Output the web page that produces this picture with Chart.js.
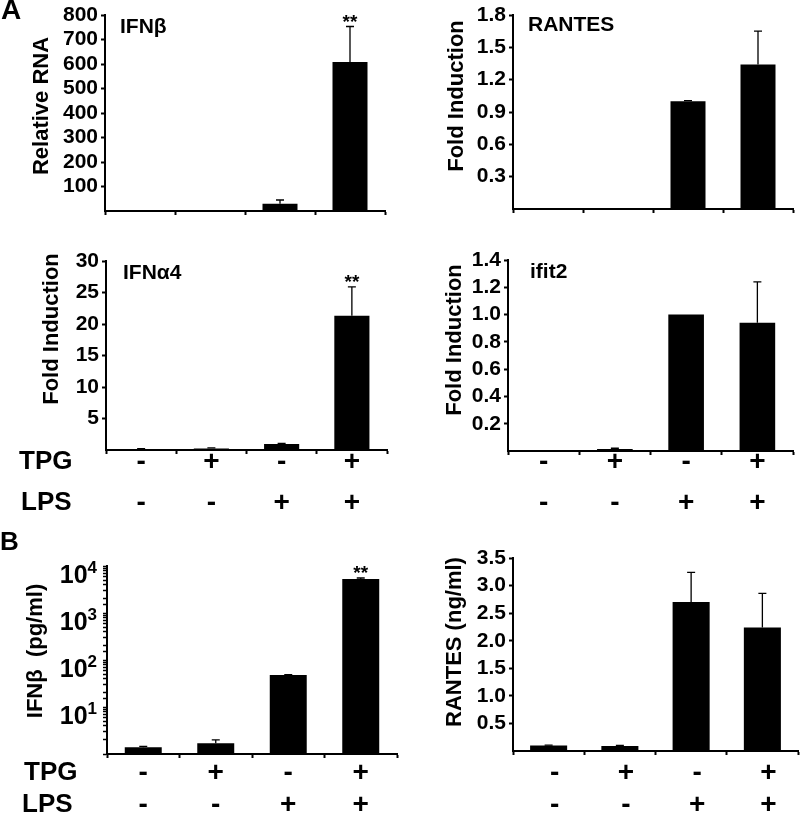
<!DOCTYPE html>
<html>
<head>
<meta charset="utf-8">
<script src="https://cdn.jsdelivr.net/npm/chart.js@4.4.0/dist/chart.umd.min.js"></script>
<style>
body { margin: 0; background: #fff; }
#fig { position: relative; width: 800px; height: 813px; }
#fig canvas { position: absolute; }
</style>
</head>
<body>
<div id="fig">
  <canvas id="ifnbRna"></canvas>
  <canvas id="rantesRna"></canvas>
  <canvas id="ifna4"></canvas>
  <canvas id="ifit2"></canvas>
  <canvas id="ifnbProt"></canvas>
  <canvas id="rantesProt"></canvas>
</div>
<script>
// conditions (4 groups) and the +/- rows under the axes
var groups = ['1', '2', '3', '4'];
var tpgSigns = ['-', '+', '-', '+'];
var lpsSigns = ['-', '-', '+', '+'];

// A - qPCR
var ifnbRnaMean = [0.5, 0.5, 30, 608];
var ifnbRnaErr = [0, 0, 15, 145];
var ifnbRnaTicks = [100, 200, 300, 400, 500, 600, 700, 800];

var rantesRnaMean = [0.005, 0.005, 1.0, 1.34];
var rantesRnaErr = [0, 0, 0.005, 0.31];
var rantesRnaTicks = [0.3, 0.6, 0.9, 1.2, 1.5, 1.8];

var ifna4Mean = [0.15, 0.25, 0.95, 21.3];
var ifna4Err = [0.05, 0.1, 0.1, 4.6];
var ifna4Ticks = [5, 10, 15, 20, 25, 30];

var ifit2Mean = [0.003, 0.015, 1.0, 0.94];
var ifit2Err = [0, 0.005, 0, 0.3];
var ifit2Ticks = [0.2, 0.4, 0.6, 0.8, 1.0, 1.2, 1.4];

// B - ELISA
var ifnbProtMean = [1.4, 1.7, 48, 5300];
var ifnbProtErr = [0.05, 0.3, 1, 250];
var ifnbProtTicks = [10, 100, 1000, 10000];

var rantesProtMean = [0.1, 0.09, 2.7, 2.24];
var rantesProtErr = [0.005, 0.01, 0.54, 0.62];
var rantesProtTicks = [0.5, 1.0, 1.5, 2.0, 2.5, 3.0, 3.5];

var FONT = "'Liberation Sans', Arial, Helvetica, sans-serif";
Chart.defaults.font.family = FONT;
Chart.defaults.font.weight = 'bold';
Chart.defaults.color = '#000';
Chart.defaults.animation = false;

function drawText(ctx, s, x, y, size, align, rot) {
    ctx.save();
    ctx.font = 'bold ' + size + 'px ' + FONT;
    ctx.fillStyle = '#000';
    ctx.textAlign = align || 'left';
    ctx.textBaseline = 'middle';
    ctx.translate(x, y);
    if (rot) ctx.rotate(rot);
    ctx.fillText(s, 0, 0);
    ctx.restore();
}

//-------------
//- error bars, stars, labels -
//-------------
var figurePlugin = {
    id: 'figure',
    afterDatasetsDraw: function (chart, args, o) {
        var ctx = chart.ctx;
        var ys = chart.scales.y;
        var bars = chart.getDatasetMeta(0).data;
        var means = chart.data.datasets[0].data;
        ctx.save();
        ctx.strokeStyle = '#000';
        ctx.lineWidth = 1.3;
        bars.forEach(function (bar, i) {
            var top = ys.getPixelForValue(means[i] + o.err[i]);
            if (o.err[i]) {
                ctx.beginPath();
                ctx.moveTo(bar.x, bar.y);
                ctx.lineTo(bar.x, top);
                ctx.moveTo(bar.x - 4, top);
                ctx.lineTo(bar.x + 4, top);
                ctx.stroke();
            }
            if (o.stars && o.stars[i]) {
                ctx.font = 'bold 19px ' + FONT;
                ctx.fillStyle = '#000';
                ctx.textAlign = 'center';
                ctx.textBaseline = 'alphabetic';
                ctx.fillText(o.stars[i], bar.x, top + 1);
            }
        });
        ctx.restore();
    },
    afterDraw: function (chart, args, o) {
        var ctx = chart.ctx;
        var xs = chart.scales.x, ys = chart.scales.y;
        var bx = o.box[0], by = o.box[1];

        // log axis labels 10^n
        if (o.logTicks) {
            o.logTicks.forEach(function (v) {
                var py = ys.getPixelForValue(v);
                var exp = String(Math.round(Math.log10(v)));
                ctx.save();
                ctx.font = 'bold 17px ' + FONT;
                var ew = ctx.measureText(exp).width;
                ctx.restore();
                drawText(ctx, exp, ys.right - 10, py + 2, 17, 'right');
                drawText(ctx, '10', ys.right - 10 - ew, py + 10, 25, 'right');
            });
        }

        (o.texts || []).forEach(function (t) {
            drawText(ctx, t.s, t.x - bx, t.y - by, t.size || 21, t.align, t.rot);
        });

        (o.rows || []).forEach(function (r) {
            if (r.label) drawText(ctx, r.label, r.labelX - bx, r.y - by, 26, 'left');
            r.signs.forEach(function (s, i) {
                drawText(ctx, s, xs.getPixelForValue(i) + (r.dx || 0), r.y - by, 28, 'center');
            });
        });
    }
};

function makePanel(id, box, p) {
    var canvas = document.getElementById(id);
    canvas.width = box[2];
    canvas.height = box[3];
    canvas.style.left = box[0] + 'px';
    canvas.style.top = box[1] + 'px';

    var yScale = {
        min: p.min,
        max: p.max,
        border: { display: true, color: '#000', width: 2 },
        grid: { display: true, drawOnChartArea: false, drawTicks: true, tickLength: 4, color: '#000', tickWidth: 2 },
        ticks: {
            font: { size: 21, weight: 'bold' },
            color: '#000',
            padding: 3,
            autoSkip: false,
            callback: function (v) { return p.log ? '' : v.toFixed(p.dec); }
        },
        afterFit: function (s) { s.width = p.yWidth; s.paddingTop = 0; s.paddingBottom = 0; }
    };
    if (p.log) {
        yScale.type = 'logarithmic';
        yScale.grid.tickWidth = 1.5;
    } else {
        yScale.afterBuildTicks = function (s) {
            s.ticks = p.ticks.map(function (v) { return { value: v }; });
        };
    }

    return new Chart(canvas, {
        type: 'bar',
        data: {
            labels: groups,
            datasets: [{
                data: p.mean,
                backgroundColor: '#000',
                borderWidth: 0,
                barPercentage: p.barPct || 0.5,
                categoryPercentage: 1.0
            }]
        },
        options: {
            responsive: false,
            maintainAspectRatio: false,
            layout: { padding: { top: p.padTop, right: p.padRight, bottom: 0, left: 0 } },
            scales: {
                x: {
                    border: { display: true, color: '#000', width: 2 },
                    grid: { display: true, offset: true, drawOnChartArea: false, drawTicks: true, tickLength: 4, color: '#000', tickWidth: 2 },
                    ticks: { display: false },
                    afterFit: function (s) { s.height = p.xHeight; s.paddingLeft = 0; s.paddingRight = 0; }
                },
                y: yScale
            },
            plugins: {
                legend: { display: false },
                tooltip: { enabled: false },
                figure: {
                    box: box,
                    err: p.err,
                    stars: p.stars,
                    logTicks: p.logTicks,
                    texts: p.texts,
                    rows: p.rows
                }
            }
        },
        plugins: [figurePlugin]
    });
}

var UP = -Math.PI / 2;

makePanel('ifnbRna', [0, 0, 400, 230], {
    mean: ifnbRnaMean, err: ifnbRnaErr, ticks: ifnbRnaTicks, min: 0, max: 800, dec: 0,
    yWidth: 105, xHeight: 19, padTop: 15, padRight: 15,
    stars: ['', '', '', '**'],
    texts: [
        { s: 'A', x: 1, y: 11, size: 28 },
        { s: 'IFNβ', x: 120, y: 27 },
        { s: 'Relative RNA', x: 42, y: 106, size: 22, align: 'center', rot: UP }
    ]
});

makePanel('rantesRna', [400, 0, 400, 230], {
    mean: rantesRnaMean, err: rantesRnaErr, ticks: rantesRnaTicks, min: 0, max: 1.8, dec: 1,
    yWidth: 113, xHeight: 21, padTop: 15, padRight: 7,
    texts: [
        { s: 'RANTES', x: 528, y: 25 },
        { s: 'Fold Induction', x: 457, y: 96, size: 22, align: 'center', rot: UP }
    ]
});

makePanel('ifna4', [0, 230, 400, 290], {
    mean: ifna4Mean, err: ifna4Err, ticks: ifna4Ticks, min: 0, max: 30, dec: 0,
    yWidth: 106, xHeight: 70, padTop: 31, padRight: 13,
    stars: ['', '', '', '**'],
    texts: [
        { s: 'IFNα4', x: 123, y: 273 },
        { s: 'Fold Induction', x: 52, y: 329, size: 22, align: 'center', rot: UP }
    ],
    rows: [
        { label: 'TPG', labelX: 19, y: 462, signs: tpgSigns },
        { label: 'LPS', labelX: 21, y: 503, signs: lpsSigns }
    ]
});

makePanel('ifit2', [400, 230, 400, 290], {
    mean: ifit2Mean, err: ifit2Err, ticks: ifit2Ticks, min: 0, max: 1.4, dec: 1,
    yWidth: 108, xHeight: 69, padTop: 30, padRight: 7,
    texts: [
        { s: 'ifit2', x: 530, y: 272 },
        { s: 'Fold Induction', x: 455, y: 340, size: 22, align: 'center', rot: UP }
    ],
    rows: [
        { y: 462, signs: tpgSigns },
        { y: 503, signs: lpsSigns }
    ]
});

makePanel('ifnbProt', [0, 520, 400, 293], {
    mean: ifnbProtMean, err: ifnbProtErr, log: true, logTicks: ifnbProtTicks, min: 1, max: 10000,
    yWidth: 107, xHeight: 59, padTop: 46, padRight: 3, barPct: 0.51,
    stars: ['', '', '', '**'],
    texts: [
        { s: 'B', x: 0, y: 543, size: 26 },
        { s: 'IFNβ  (pg/ml)', x: 36, y: 651, size: 22, align: 'center', rot: UP }
    ],
    rows: [
        { label: 'TPG', labelX: 24, y: 773, signs: tpgSigns },
        { label: 'LPS', labelX: 22, y: 805, signs: lpsSigns }
    ]
});

makePanel('rantesProt', [400, 520, 400, 293], {
    mean: rantesProtMean, err: rantesProtErr, ticks: rantesProtTicks, min: 0, max: 3.5, dec: 1,
    yWidth: 113, xHeight: 62, padTop: 38, padRight: 2, barPct: 0.52,
    texts: [
        { s: 'RANTES (ng/ml)', x: 455, y: 642, size: 22, align: 'center', rot: UP }
    ],
    rows: [
        { y: 773, signs: tpgSigns, dx: 6 },
        { y: 805, signs: lpsSigns, dx: 6 }
    ]
});
</script>
</body>
</html>
